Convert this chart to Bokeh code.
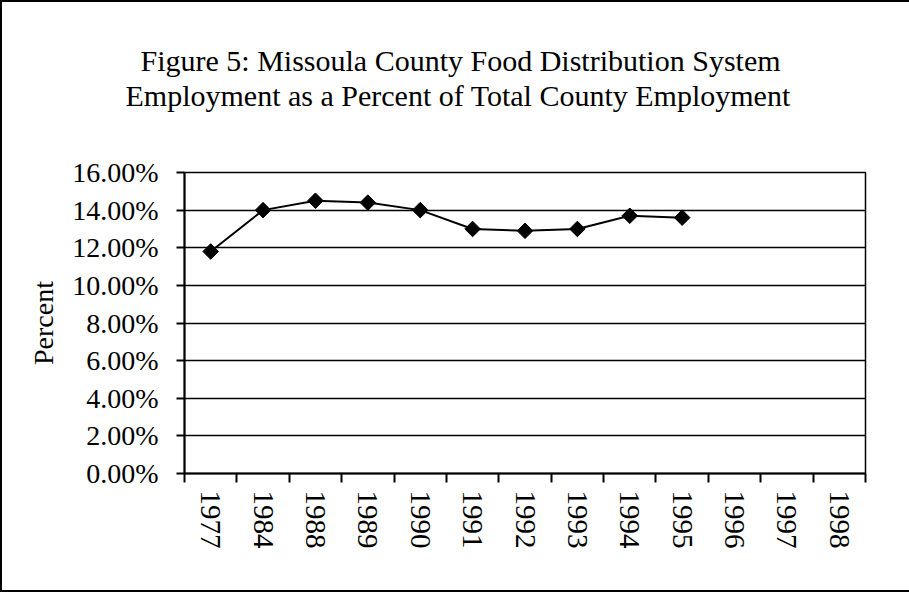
import numpy as np
from bokeh.plotting import figure
from bokeh.models import (ColumnDataSource, FixedTicker, NumeralTickFormatter, Title, Range1d)
from bokeh.embed import file_html
from bokeh.resources import INLINE

# ---- data ----
title_line1 = "Figure 5: Missoula County Food Distribution System"
title_line2 = "Employment as a Percent of Total County Employment"
years = ["1977", "1984", "1988", "1989", "1990", "1991", "1992", "1993",
         "1994", "1995", "1996", "1997", "1998"]
pct_years = ["1977", "1984", "1988", "1989", "1990", "1991", "1992", "1993",
             "1994", "1995"]
pct_values = [11.8, 14.0, 14.5, 14.4, 14.0, 13.0, 12.9, 13.0, 13.7, 13.6]
y_ticks_pct = [0, 2, 4, 6, 8, 10, 12, 14, 16]
y_label = "Percent"

FONT = "Liberation Serif"

xs = [years.index(y) + 0.5 for y in pct_years]
src = ColumnDataSource(dict(x=xs, y=[v / 100.0 for v in pct_values], year=pct_years))

p = figure(output_backend="svg", toolbar_location=None,
           frame_width=681, frame_height=301,
           min_border_left=182, min_border_right=44,
           min_border_top=170, min_border_bottom=117,
           x_range=Range1d(0, len(years)), y_range=Range1d(0, y_ticks_pct[-1] / 100.0))

p.styles = {"border-left": "2px solid black", "border-top": "2px solid black",
            "border-bottom": "2px solid black"}

p.line("x", "y", source=src, line_color="black", line_width=2)
p.scatter("x", "y", source=src, marker="square", angle=np.pi / 4, size=11,
          fill_color="black", line_color="black")

# titles
title_kw = dict(align="left", text_font=FONT, text_font_size="30px",
                text_font_style="normal", text_color="black")
t2 = Title(text=title_line2, offset=-59, standoff=122, **title_kw)
try:
    t1 = Title(text=title_line1, offset=-44, standoff=-122, **title_kw)
except Exception:
    t1 = Title(text=title_line1, offset=-44, standoff=0, **title_kw)
p.add_layout(t2, "above")
p.add_layout(t1, "above")

# y axis
p.yaxis.ticker = FixedTicker(ticks=[t / 100.0 for t in y_ticks_pct])
p.yaxis.formatter = NumeralTickFormatter(format="0.00%")
p.yaxis.axis_label = y_label
p.yaxis.axis_label_text_font = FONT
p.yaxis.axis_label_text_font_size = "28px"
p.yaxis.axis_label_text_font_style = "normal"
p.yaxis.axis_label_standoff = 10
p.yaxis.major_label_text_font = FONT
p.yaxis.major_label_text_font_size = "28px"
p.yaxis.major_label_standoff = 18
p.yaxis.major_tick_out = 8
p.yaxis.major_tick_in = 0
p.yaxis.minor_tick_line_color = None
p.yaxis.axis_line_width = 2
p.yaxis.major_tick_line_width = 2
p.yaxis.axis_line_color = "black"
p.yaxis.major_tick_line_color = "black"
p.yaxis.major_label_text_color = "black"
p.yaxis.axis_label_text_color = "black"

# x axis: labels at category centers, ticks at category boundaries
p.xaxis.ticker = FixedTicker(ticks=[i + 0.5 for i in range(len(years))],
                             minor_ticks=list(range(len(years) + 1)))
p.xaxis.major_label_overrides = {i + 0.5: y for i, y in enumerate(years)}
p.xaxis.major_label_orientation = "vertical"
p.xaxis.major_label_text_font = FONT
p.xaxis.major_label_text_font_size = "29px"
p.xaxis.major_label_text_color = "black"
p.xaxis.major_label_standoff = 8
p.xaxis.major_tick_line_color = None
p.xaxis.major_tick_out = 9
p.xaxis.minor_tick_out = 9
p.xaxis.minor_tick_in = 0
p.xaxis.minor_tick_line_color = "black"
p.xaxis.minor_tick_line_width = 2
p.xaxis.axis_line_width = 2
p.xaxis.axis_line_color = "black"

# grid
p.xgrid.grid_line_color = None
p.ygrid.grid_line_color = "black"
p.ygrid.grid_line_width = 1.5
p.outline_line_color = "black"
p.outline_line_width = 1.5
p.outline_line_alpha = 1.0
p.background_fill_color = "white"
p.border_fill_color = "white"

open("out.html", "w").write(file_html(p, INLINE))
